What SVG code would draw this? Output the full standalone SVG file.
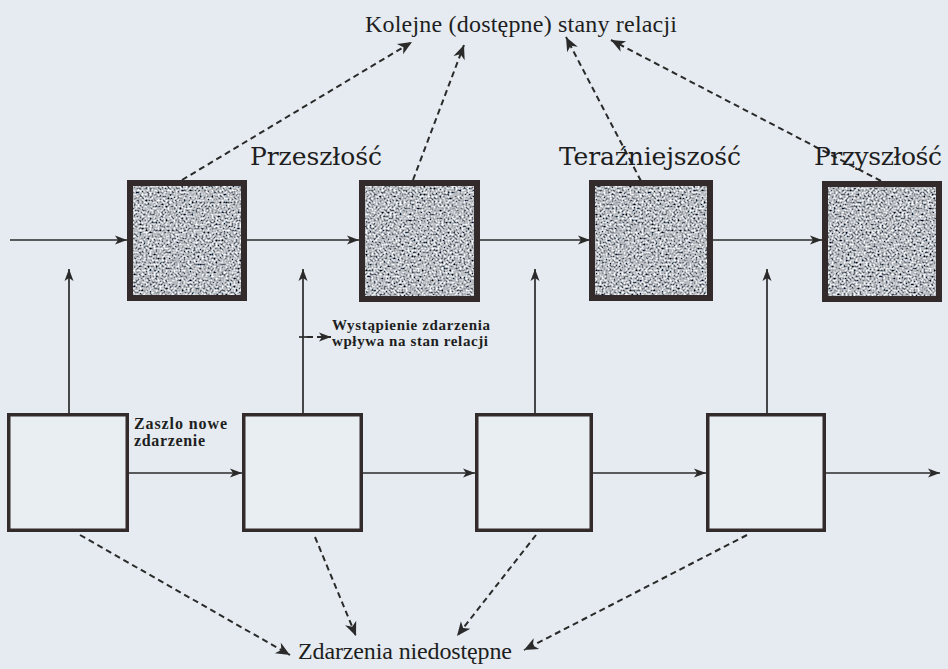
<svg xmlns="http://www.w3.org/2000/svg" width="948" height="669" viewBox="0 0 948 669">
  <defs>
    <style>
      .state { fill: #aeb2b8; stroke: #332b2b; stroke-width: 6; }
      .grain { filter: url(#grain); }
      .event { fill: #e9eef3; stroke: #332b2b; stroke-width: 3.5; }
      .flow { fill: none; stroke: #2a2a2a; stroke-width: 1.7; }
      .link { fill: none; stroke: #2a2a2a; stroke-width: 2; stroke-dasharray: 6 4; }
      .head { font-family: "Liberation Serif", "Times New Roman", serif; fill: #1e1e1e; }
      .time { font-family: "DejaVu Serif", "Liberation Serif", serif; fill: #1e1e1e; }
      .note { font-family: "Liberation Serif", "Times New Roman", serif; font-weight: bold; fill: #1e1e1e; }
    </style>
    <!-- mottled grey texture for the relation-state boxes -->
    <filter id="grain" x="0" y="0" width="1" height="1">
      <feTurbulence type="fractalNoise" baseFrequency="0.5" numOctaves="2" seed="7" result="n"/>
      <feColorMatrix in="n" type="matrix" values="2.0 0 0 0 -0.52  2.0 0 0 0 -0.50  2.0 0 0 0 -0.47  0 0 0 0 1" result="g"/>
      <feComposite in="g" in2="SourceGraphic" operator="in"/>
    </filter>
    <marker id="arrow" markerUnits="userSpaceOnUse" markerWidth="17" markerHeight="14" refX="15" refY="7" orient="auto">
      <path d="M15,7 L1,1 L5,7 L1,13 Z" fill="#2a2a2a"/>
    </marker>
    <marker id="arrowS" markerUnits="userSpaceOnUse" markerWidth="15" markerHeight="12" refX="13" refY="6" orient="auto">
      <path d="M13,6 L1,1.5 L4,6 L1,10.5 Z" fill="#2a2a2a"/>
    </marker>
  </defs>

  <rect x="0" y="0" width="948" height="669" fill="#e5ebf0"/>

  <!-- connectors -->
  <g id="connectors">
    <!-- timeline of relation states -->
    <line class="flow" x1="10" y1="240" x2="127" y2="240" marker-end="url(#arrowS)"/>
    <line class="flow" x1="247" y1="240" x2="359" y2="240" marker-end="url(#arrowS)"/>
    <line class="flow" x1="480" y1="240" x2="590" y2="240" marker-end="url(#arrowS)"/>
    <line class="flow" x1="712" y1="240" x2="822" y2="240" marker-end="url(#arrowS)"/>
    <!-- timeline of events -->
    <line class="flow" x1="129" y1="473" x2="242" y2="473" marker-end="url(#arrowS)"/>
    <line class="flow" x1="363" y1="473" x2="475" y2="473" marker-end="url(#arrowS)"/>
    <line class="flow" x1="593" y1="473" x2="706" y2="473" marker-end="url(#arrowS)"/>
    <line class="flow" x1="826" y1="473" x2="940" y2="473" marker-end="url(#arrowS)"/>
    <!-- events influence relation states -->
    <line class="flow" x1="69" y1="413" x2="69" y2="269" marker-end="url(#arrowS)"/>
    <line class="flow" x1="303" y1="413" x2="303" y2="269" marker-end="url(#arrowS)"/>
    <line class="flow" x1="535" y1="413" x2="535" y2="269" marker-end="url(#arrowS)"/>
    <line class="flow" x1="767" y1="413" x2="767" y2="269" marker-end="url(#arrowS)"/>
    <!-- pointer to the influence note -->
    <line class="flow" x1="299" y1="337" x2="307" y2="337"/>
    <line class="link" x1="307" y1="337" x2="331" y2="337" stroke-dasharray="5 3" marker-end="url(#arrowS)"/>
    <!-- accessible relation states -->
    <line class="link" x1="182" y1="180" x2="412" y2="42" marker-end="url(#arrow)"/>
    <line class="link" x1="413" y1="180" x2="464" y2="45" marker-end="url(#arrow)"/>
    <line class="link" x1="641" y1="181" x2="566" y2="37" marker-end="url(#arrow)"/>
    <line class="link" x1="881" y1="181" x2="611" y2="40" marker-end="url(#arrow)"/>
    <!-- inaccessible events -->
    <line class="link" x1="80" y1="535" x2="290" y2="655" marker-end="url(#arrow)"/>
    <line class="link" x1="315" y1="537" x2="356" y2="636" marker-end="url(#arrow)"/>
    <line class="link" x1="536" y1="535" x2="457" y2="636" marker-end="url(#arrow)"/>
    <line class="link" x1="747" y1="535" x2="524" y2="650" marker-end="url(#arrow)"/>
  </g>

  <!-- relation states -->
  <g id="state-1">
    <rect class="state" x="130" y="183" width="114" height="115"/>
    <rect class="grain" x="133" y="186" width="108" height="109" fill="#fff"/>
  </g>
  <g id="state-2">
    <rect class="state" x="362" y="183" width="115" height="116"/>
    <rect class="grain" x="365" y="186" width="109" height="110" fill="#fff"/>
  </g>
  <g id="state-3">
    <rect class="state" x="592" y="183" width="118" height="115"/>
    <rect class="grain" x="595" y="186" width="112" height="109" fill="#fff"/>
  </g>
  <g id="state-4">
    <rect class="state" x="825" y="184" width="114" height="115"/>
    <rect class="grain" x="828" y="187" width="108" height="109" fill="#fff"/>
  </g>

  <!-- events -->
  <g id="event-1"><rect class="event" x="8.75" y="414.75" width="118.5" height="115.5"/></g>
  <g id="event-2"><rect class="event" x="243.75" y="414.75" width="117.5" height="115.5"/></g>
  <g id="event-3"><rect class="event" x="476.75" y="414.75" width="114.5" height="115.5"/></g>
  <g id="event-4"><rect class="event" x="707.75" y="414.75" width="116.5" height="115.5"/></g>

  <!-- labels -->
  <g id="label-states">
    <text class="head" x="365" y="32" font-size="24" textLength="312">Kolejne (dostępne) stany relacji</text>
  </g>
  <g id="label-past">
    <text class="time" x="250" y="165" font-size="25" textLength="132">Przeszłość</text>
  </g>
  <g id="label-present">
    <text class="time" x="559" y="165" font-size="25" textLength="182">Teraźniejszość</text>
  </g>
  <g id="label-future">
    <text class="time" x="814" y="165" font-size="25" textLength="128">Przyszłość</text>
  </g>
  <g id="label-influence">
    <text class="note" x="332" y="330" font-size="15" textLength="158">Wystąpienie zdarzenia</text>
    <text class="note" x="332" y="346" font-size="15" textLength="156">wpływa na stan relacji</text>
  </g>
  <g id="label-new-event">
    <text class="note" x="134" y="429" font-size="16" textLength="93">Zaszlo nowe</text>
    <text class="note" x="134" y="446" font-size="16" textLength="71">zdarzenie</text>
  </g>
  <g id="label-inaccessible">
    <text class="head" x="298" y="659" font-size="24" textLength="214">Zdarzenia niedostępne</text>
  </g>
</svg>
